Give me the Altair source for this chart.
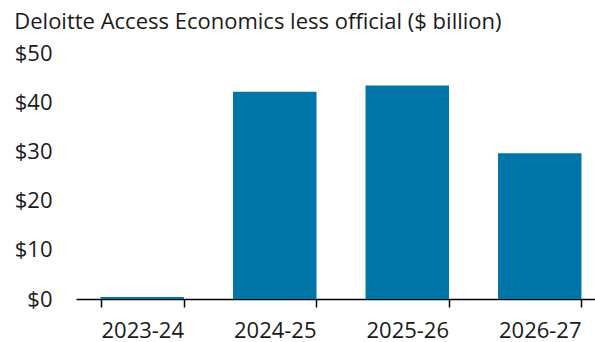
import altair as alt
import pandas as pd

years = ["2023-24", "2024-25", "2025-26", "2026-27"]
values = [0.4, 42.1, 43.4, 29.6]

df = pd.DataFrame({"year": years, "value": values})

FONT = "Open Sans"

chart = alt.Chart(df).mark_bar(color="#0076A8").encode(
    x=alt.X("year:N", sort=years,
            scale=alt.Scale(range=[0, 530], paddingInner=0.37, paddingOuter=0.185),
            axis=alt.Axis(title=None, labelAngle=0, tickBand="extent", domainColor="black",
                          domainWidth=1.5, tickColor="black", tickWidth=1.5, tickSize=8,
                          labelPadding=13, labelFontSize=22, labelFont=FONT,
                          labelColor="#1a1a1a", grid=False)),
    y=alt.Y("value:Q", scale=alt.Scale(domain=[0, 50], nice=False),
            axis=alt.Axis(title=None, values=[0, 10, 20, 30, 40, 50], domain=False, ticks=False,
                          grid=False, labelExpr="'$' + datum.value", labelFontSize=22,
                          labelFont=FONT, labelColor="#1a1a1a", labelPadding=24)),
).properties(
    width=519, height=246,
    autosize=alt.AutoSizeParams(type="none"),
    padding={"left": 76, "top": 53, "right": 0, "bottom": 43},
    title=alt.TitleParams("Deloitte Access Economics less official ($ billion)",
                          anchor="start", offset=0, dy=9, baseline="alphabetic",
                          font=FONT, fontSize=22, fontWeight="normal", color="#1a1a1a"),
).configure_view(stroke=None)

chart.save("out.html", embed_options={"renderer": "svg", "actions": False})
